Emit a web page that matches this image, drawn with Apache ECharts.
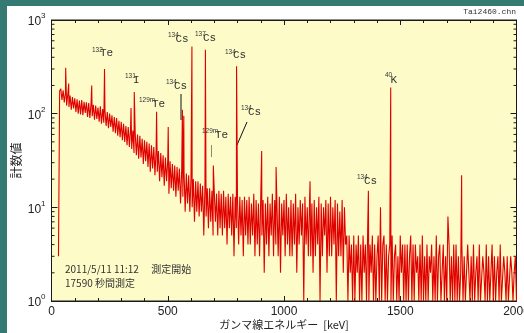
<!DOCTYPE html>
<html><head><meta charset="utf-8">
<script src="https://cdn.jsdelivr.net/npm/echarts@6/dist/echarts.min.js"></script>
<style>
html,body{margin:0;padding:0;background:#357a72;width:524px;height:333px;overflow:hidden}
#panel{position:absolute;left:7px;top:6px;width:517px;height:327px;background:#ffffff}
#main{position:absolute;left:0;top:0;width:524px;height:333px}
</style></head><body>
<div id="panel"></div><div id="main"></div>
<script>
// channel calibration of the continuum bins (keV)
const binStart = 30, binWidth = 5;
// continuum counts per 5 keV bin (30 .. 2000 keV)
const counts = [
 3,175,185,140,178,132,165,122,160,118,156,110,150,114,146,104,142,100,138,98,
 140,96,134,102,132,92,130,90,128,94,124,86,122,88,116,82,120,78,112,80,
 108,74,104,70,100,72,96,64,92,62,90,58,84,56,82,52,78,50,74,46,
 72,44,68,42,66,38,62,36,60,33,58,34,54,29,52,31,50,27,48,24,
 46,26,44,22,42,24,40,19,38,21,36,17,34,19,32,14,31,16,29,15,
 28,13,27,15,26,11,25,13,24,9,23,11,22,9,21,10,20,7,19,9,
 19,8,18,9,17,5,17,8,16,6,16,7,15,5,15,7,14,5,15,6,
 14,5,15,6,13,4,14,6,13,5,14,3,13,6,12,4,13,5,12,3,
 13,5,12,4,13,4,11,5,14,3,12,4,11,3,13,5,12,2,11,4,
 13,3,11,5,14,3,12,4,10,3,13,2,11,5,12,3,14,4,10,3,
 12,3,11,4,14,2,10,4,12,5,11,1,13,4,10,3,12,3,11,2,
 12,3,10,4,13,1,11,3,10,5,12,2,11,3,13,3,10,4,12,1,
 11,3,9,3,12,2,10,4,5,1,5,2,4,1,5,1,4,2,5,1,
 4,1,5,2,4,1,6,1,4,2,5,1,4,1,3,5,1,10,1,4,
 5,1,4,1,3,4,1,5,1,3,4,1,3,1,5,2,4,1,4,1,
 4,1,3,5,1,4,1,4,2,3,1,4,1,5,1,3,1,4,1,3,
 2,4,1,3,1,5,1,3,4,1,2,4,1,3,1,8,4,1,3,1,
 4,1,4,1,3,1,2,4,1,3,1,1,4,2,1,3,1,4,1,2,
 3,1,4,1,1,3,2,1,4,1,3,1,2,4,1,3,1,2,3,1,
 4,1,1,3,2,1,3,1,1,3,2,1,2,3,1
];
// photopeaks (keV, counts)
const peakEnergy = [61,74,173,228,342,356,452,502,563,569,604,662,696,796,904,966,1112,1363,1459,1764];
const peakCounts = [310,210,200,300,115,170,105,72,110,95,520,480,28,320,40,27,19,15,190,22];
const xTickValues = [0,500,1000,1500,2000];
const yExtent = [1,1000];

const data = [];
counts.forEach((v,i)=>data.push([binStart+i*binWidth, v]));
peakEnergy.forEach((e,i)=>data.push([e, peakCounts[i]]));
data.sort((a,b)=>a[0]-b[0]);

const chart = echarts.init(document.getElementById('main'));
const sans = '"Liberation Sans", Arial, sans-serif';
const jp = '"Noto Sans CJK JP", sans-serif';
const mono = '"Liberation Mono", "DejaVu Sans Mono", monospace';
const ink = '#1a1a1a';
const red = '#e00000';

function xAx(pos){
  return {type:'value', min:xTickValues[0], max:xTickValues[xTickValues.length-1], interval:500, position:pos,
    axisLine:{show:true, onZero:false, lineStyle:{color:ink,width:1}},
    axisTick:{show:true, inside:true, length:5, lineStyle:{color:ink}},
    minorTick:{show:true, splitNumber:5, length:3, lineStyle:{color:ink}},
    splitLine:{show:false}, minorSplitLine:{show:false},
    axisLabel:{show:pos==='bottom', color:'#222', fontSize:12, fontFamily:sans, margin:5, formatter:v=>String(v)},
    name: pos==='bottom' ? 'ガンマ線エネルギー  [keV]' : '',
    nameLocation:'middle', nameGap:18, nameMoveOverlap:false,
    nameTextStyle:{fontSize:11, fontFamily:jp, color:'#222'}
  };
}
function yAx(pos){
  return {type:'log', logBase:10, min:yExtent[0], max:yExtent[1], position:pos,
    axisLine:{show:true, onZero:false, lineStyle:{color:ink,width:1}},
    axisTick:{show:true, inside:true, length:6, lineStyle:{color:ink}},
    splitLine:{show:false},
    axisLabel:{show:pos==='left', margin:6,
      formatter:v=>'{b|10}{s|'+Math.round(Math.log10(v))+'}',
      rich:{b:{fontSize:12, fontFamily:sans, color:'#222', lineHeight:16, verticalAlign:'bottom'},
            s:{fontSize:8, fontFamily:sans, color:'#222', lineHeight:7, verticalAlign:'top'}}},
    name: pos==='left' ? '計数値' : '', nameLocation:'middle', nameGap:29, nameRotate:90, nameMoveOverlap:false,
    nameTextStyle:{fontSize:12, fontFamily:jp, color:'#222'}
  };
}

const labels = [
  [92,50,'132',100,53,'Te'],
  [125,76,'131',133,80,'I'],
  [168,35,'134',175.5,39,'Cs'],
  [195,34,'137',203,38,'Cs'],
  [225,52,'134',233,55,'Cs'],
  [166,82,'134',174,86,'Cs'],
  [139,100,'129m',152,104,'Te'],
  [202,131,'129m',215,135,'Te'],
  [241,108,'134',248,112,'Cs'],
  [357,177,'134',364,181,'Cs'],
  [385,75,'40',390.5,80,'K']
];
const graphics = [];
labels.forEach(l=>{
  graphics.push({type:'text', x:l[0], y:l[1], silent:true, style:{text:l[2], font:'6.5px '+sans, fill:'#333', verticalAlign:'middle'}});
  graphics.push({type:'text', x:l[3], y:l[4], silent:true, style:{text:l[5], font:'11px '+mono, fill:'#333', verticalAlign:'middle'}});
});
const leaders = [[181,94,181,120,'#111'],[247,122,237,145,'#111'],[156.5,113,156.5,127,'#8a8a70'],[211.5,145,211.5,157,'#8a8a70']];
leaders.forEach(p=>graphics.push({type:'line', silent:true, shape:{x1:p[0],y1:p[1],x2:p[2],y2:p[3]}, style:{stroke:p[4], lineWidth:1}}));
graphics.push({type:'text', right:8, top:8, silent:true, style:{text:'Tai2460.chn', font:'8px '+mono, fill:'#333'}});
graphics.push({type:'text', x:65, y:269, silent:true, style:{text:'2011/5/11 11:12 　測定開始', font:'10px '+jp, fill:'#333', verticalAlign:'middle'}});
graphics.push({type:'text', x:65, y:283, silent:true, style:{text:'17590 秒間測定', font:'10px '+jp, fill:'#333', verticalAlign:'middle'}});

chart.setOption({
  animation:false,
  color:[red],
  grid:{left:51.5, right:7.5, top:20, bottom:32, show:true, outerBoundsMode:'none', containLabel:false,
    backgroundColor:'#fdfcc9', borderColor:ink, borderWidth:1},
  xAxis:[xAx('bottom'), xAx('top')],
  yAxis:[yAx('left'), yAx('right')],
  series:[{type:'line', xAxisIndex:0, yAxisIndex:0, data:data, symbol:'none', showSymbol:false, color:red,
    itemStyle:{color:red}, lineStyle:{color:red, width:1.1, opacity:1}, silent:true, clip:true, large:false, progressive:0}],
  graphic:graphics
});

// log-spaced minor ticks (2..9 per decade) on both y axes, placed through the axis scale
const xl = chart.convertToPixel({xAxisIndex:0}, xTickValues[0]);
const xr = chart.convertToPixel({xAxisIndex:0}, xTickValues[xTickValues.length-1]);
const minor = [];
for (let k=0;k<3;k++) for (let m=2;m<10;m++){
  const py = chart.convertToPixel({yAxisIndex:0}, m*Math.pow(10,k));
  minor.push({type:'line', silent:true, shape:{x1:xl,y1:py,x2:xl+3,y2:py}, style:{stroke:ink,lineWidth:1}});
  minor.push({type:'line', silent:true, shape:{x1:xr,y1:py,x2:xr-3,y2:py}, style:{stroke:ink,lineWidth:1}});
}
chart.setOption({graphic:graphics.concat(minor)});
</script>
</body></html>
